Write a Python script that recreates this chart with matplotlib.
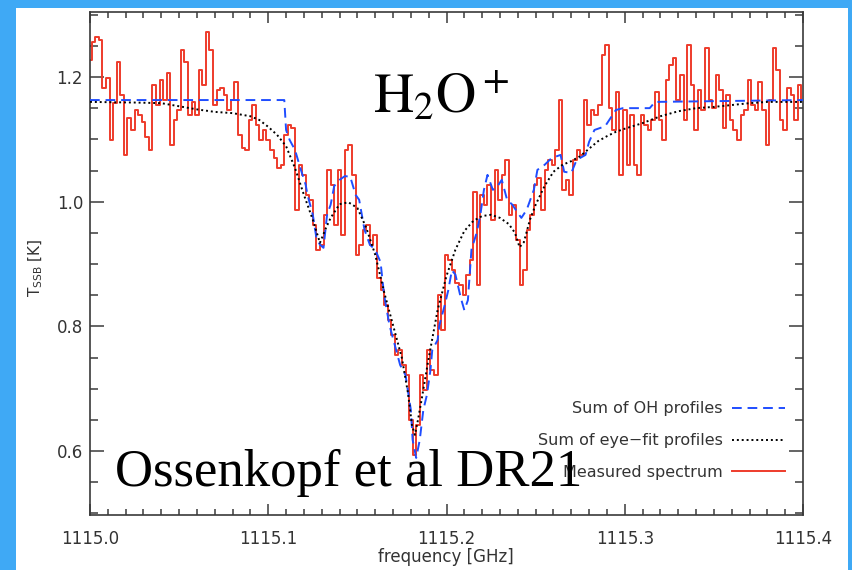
import numpy as np
import matplotlib.pyplot as plt
from matplotlib.patches import Rectangle
from matplotlib.ticker import MultipleLocator, FormatStrFormatter

plt.rcParams['mathtext.fontset'] = 'stix'

# measured spectrum, one value per channel (1115.000 .. 1115.400 GHz, 2 MHz steps)
freq_start, freq_stop, n_chan = 1115.0, 1115.4, 201
measured_T = [
    1.227, 1.256, 1.264, 1.259, 1.182, 1.198, 1.099, 1.158, 1.224, 1.171,
    1.075, 1.134, 1.115, 1.147, 1.139, 1.128, 1.104, 1.083, 1.187, 1.155,
    1.195, 1.163, 1.206, 1.091, 1.131, 1.147, 1.243, 1.224, 1.139, 1.160,
    1.139, 1.211, 1.187, 1.272, 1.243, 1.155, 1.179, 1.182, 1.171, 1.147,
    1.163, 1.192, 1.107, 1.086, 1.083, 1.131, 1.155, 1.123, 1.099, 1.115,
    1.099, 1.083, 1.070, 1.054, 1.059, 1.107, 1.123, 1.118, 0.987, 1.059,
    1.043, 1.011, 1.003, 0.963, 0.923, 0.931, 0.979, 1.051, 1.027, 0.963,
    1.051, 0.947, 1.083, 1.091, 1.043, 0.915, 0.931, 0.955, 0.963, 0.931,
    0.947, 0.878, 0.858, 0.834, 0.810, 0.786, 0.754, 0.762, 0.738, 0.722,
    0.650, 0.594, 0.642, 0.722, 0.698, 0.762, 0.730, 0.722, 0.850, 0.794,
    0.915, 0.907, 0.890, 0.870, 0.866, 0.850, 0.883, 0.907, 1.016, 0.866,
    1.011, 0.995, 1.027, 0.971, 1.051, 1.003, 1.043, 1.067, 0.979, 0.995,
    0.939, 0.866, 0.890, 0.955, 0.979, 1.027, 1.038, 0.987, 1.051, 1.067,
    1.059, 1.083, 1.163, 1.019, 1.035, 1.011, 1.067, 1.083, 1.075, 1.163,
    1.123, 1.147, 1.139, 1.155, 1.235, 1.251, 1.150, 1.115, 1.176, 1.043,
    1.147, 1.059, 1.139, 1.059, 1.043, 1.139, 1.123, 1.115, 1.131, 1.176,
    1.131, 1.099, 1.195, 1.219, 1.230, 1.163, 1.203, 1.131, 1.251, 1.187,
    1.115, 1.179, 1.147, 1.247, 1.163, 1.150, 1.203, 1.179, 1.118, 1.171,
    1.131, 1.115, 1.099, 1.139, 1.147, 1.195, 1.155, 1.147, 1.192, 1.147,
    1.091, 1.163, 1.247, 1.211, 1.131, 1.115, 1.182, 1.171, 1.131, 1.187,
    1.163,
]

# sum of eye-fit profiles
eyefit_f = [
    1115.000, 1115.025, 1115.040, 1115.050, 1115.060, 1115.070, 1115.080,
    1115.090, 1115.095, 1115.100, 1115.105, 1115.110, 1115.115, 1115.120,
    1115.125, 1115.129, 1115.1324, 1115.135, 1115.140, 1115.145, 1115.150,
    1115.155, 1115.160, 1115.165, 1115.170, 1115.175, 1115.1784, 1115.1806,
    1115.1823, 1115.184, 1115.186, 1115.190, 1115.195, 1115.200, 1115.205,
    1115.210, 1115.215, 1115.220, 1115.225, 1115.230, 1115.235, 1115.2384,
    1115.241, 1115.2434, 1115.2468, 1115.250, 1115.255, 1115.260, 1115.265,
    1115.270, 1115.275, 1115.280, 1115.285, 1115.290, 1115.295, 1115.300,
    1115.310, 1115.320, 1115.330, 1115.340, 1115.350, 1115.360, 1115.370,
    1115.380, 1115.400,
]
eyefit_T = [
    1.160, 1.159, 1.158, 1.153, 1.148, 1.144, 1.142,
    1.137, 1.131, 1.120, 1.107, 1.089, 1.054, 1.011,
    0.971, 0.934, 0.958, 0.974, 0.996, 0.999, 0.990,
    0.958, 0.915, 0.855, 0.802, 0.749, 0.693, 0.642,
    0.626, 0.650, 0.682, 0.749, 0.826, 0.881, 0.923,
    0.953, 0.969, 0.977, 0.979, 0.974, 0.964, 0.950,
    0.927, 0.935, 0.971, 0.995, 1.025, 1.048, 1.059,
    1.065, 1.073, 1.085, 1.097, 1.105, 1.112, 1.117,
    1.126, 1.137, 1.145, 1.150, 1.152, 1.155, 1.158,
    1.160, 1.160,
]

# sum of OH profiles
oh_f = [
    1115.000, 1115.109, 1115.110, 1115.112, 1115.115, 1115.118, 1115.121,
    1115.122, 1115.125, 1115.127, 1115.129, 1115.131, 1115.133, 1115.135,
    1115.137, 1115.140, 1115.143, 1115.146, 1115.149, 1115.151, 1115.154,
    1115.157, 1115.160, 1115.163, 1115.165, 1115.168, 1115.171, 1115.174,
    1115.177, 1115.180, 1115.181, 1115.183, 1115.185, 1115.187, 1115.189,
    1115.191, 1115.192, 1115.195, 1115.196, 1115.199, 1115.201, 1115.203,
    1115.205, 1115.208, 1115.210, 1115.212, 1115.214, 1115.217, 1115.219,
    1115.221, 1115.223, 1115.226, 1115.228, 1115.231, 1115.234, 1115.237,
    1115.240, 1115.242, 1115.245, 1115.247, 1115.249, 1115.251, 1115.255,
    1115.259, 1115.264, 1115.266, 1115.270, 1115.273, 1115.278, 1115.280,
    1115.283, 1115.289, 1115.292, 1115.295, 1115.299, 1115.314, 1115.317,
    1115.400,
]
oh_T = [
    1.163, 1.163, 1.115, 1.099, 1.083, 1.054, 1.027,
    1.011, 0.979, 0.942, 0.931, 0.926, 0.979, 0.995,
    1.025, 1.035, 1.041, 1.040, 1.011, 1.003, 0.955,
    0.931, 0.923, 0.903, 0.850, 0.802, 0.770, 0.738,
    0.722, 0.666, 0.618, 0.589, 0.618, 0.666, 0.690,
    0.730, 0.762, 0.778, 0.802, 0.834, 0.858, 0.890,
    0.883, 0.846, 0.826, 0.842, 0.923, 0.951, 0.979,
    1.019, 1.043, 1.019, 1.022, 1.035, 1.003, 0.995,
    0.982, 0.974, 0.987, 1.003, 1.019, 1.051, 1.059,
    1.070, 1.075, 1.048, 1.046, 1.067, 1.075, 1.096,
    1.115, 1.121, 1.134, 1.147, 1.150, 1.150, 1.160,
    1.163,
]

legend_labels = ["Sum of OH profiles", "Sum of eye\u2212fit profiles", "Measured spectrum"]

W, H = 852, 570
fig = plt.figure(figsize=(W / 100, H / 100), dpi=100, facecolor='#3fa9f5')
fig.add_artist(Rectangle((16 / W, 0), 832 / W, 562 / H, transform=fig.transFigure,
                         facecolor='white', edgecolor='none', zorder=0))

ax = fig.add_axes([90 / W, 1 - 515 / H, 713 / W, 503 / H])
ax.set_facecolor('white')

freq = np.linspace(freq_start, freq_stop, n_chan)
red, = ax.plot(freq, measured_T, drawstyle='steps-mid', color='#ee3b2b', lw=1.4, zorder=2)
blue, = ax.plot(oh_f, oh_T, color='#1f4dff', lw=1.4, ls=(0, (5, 3)), zorder=3)
black, = ax.plot(eyefit_f, eyefit_T, color='black', lw=1.4, ls=(0, (1, 1.5)), zorder=4)

ax.set_xlim(1115.0, 1115.4)
ax.set_ylim(0.4975, 1.3042)

gray = '#3a3a3a'
for sp in ax.spines.values():
    sp.set_color(gray)
    sp.set_linewidth(1.2)

ax.xaxis.set_major_locator(MultipleLocator(0.1))
ax.xaxis.set_minor_locator(MultipleLocator(0.01))
ax.xaxis.set_major_formatter(FormatStrFormatter('%.1f'))
ax.yaxis.set_major_locator(MultipleLocator(0.2))
ax.yaxis.set_minor_locator(MultipleLocator(0.05))
ax.yaxis.set_major_formatter(FormatStrFormatter('%.1f'))

ax.tick_params(axis='both', which='both', direction='in', top=True, right=True,
               color=gray, labelcolor='#333333', labelsize=12, width=1.1)
ax.tick_params(axis='x', which='major', length=8, pad=11)
ax.tick_params(axis='x', which='minor', length=4)
ax.tick_params(axis='y', which='major', length=10, pad=5)
ax.tick_params(axis='y', which='minor', length=6)

fig.text(446 / W, 1 - 557 / H, 'frequency [GHz]', ha='center', va='center',
         fontsize=12, color='#333333')
fig.text(36 / W, 1 - 268 / H, r'T$_{\rm SSB}$ [K]', rotation=90, ha='center', va='center',
         fontsize=11, color='#333333', math_fontfamily='dejavusans')

leg = ax.legend([blue, black, red], legend_labels, loc='lower right',
                bbox_to_anchor=((785 - 90) / 713, (515 - 480) / 503),
                frameon=False, markerfirst=False, handlelength=3.3, handletextpad=0.6,
                labelspacing=1.05, fontsize=11.5, borderpad=0, borderaxespad=0)
for t in leg.get_texts():
    t.set_color('#333333')

fig.text(373 / W, 1 - 112 / H, r'$\mathrm{H_2O^+}$', fontsize=40, ha='left',
         va='baseline', color='black')
fig.text(115 / W, 1 - 486 / H, 'Ossenkopf et al DR21', fontsize=38, ha='left',
         va='baseline', color='black', family='Liberation Serif')

fig.savefig('out.png', dpi=100, facecolor=fig.get_facecolor())
